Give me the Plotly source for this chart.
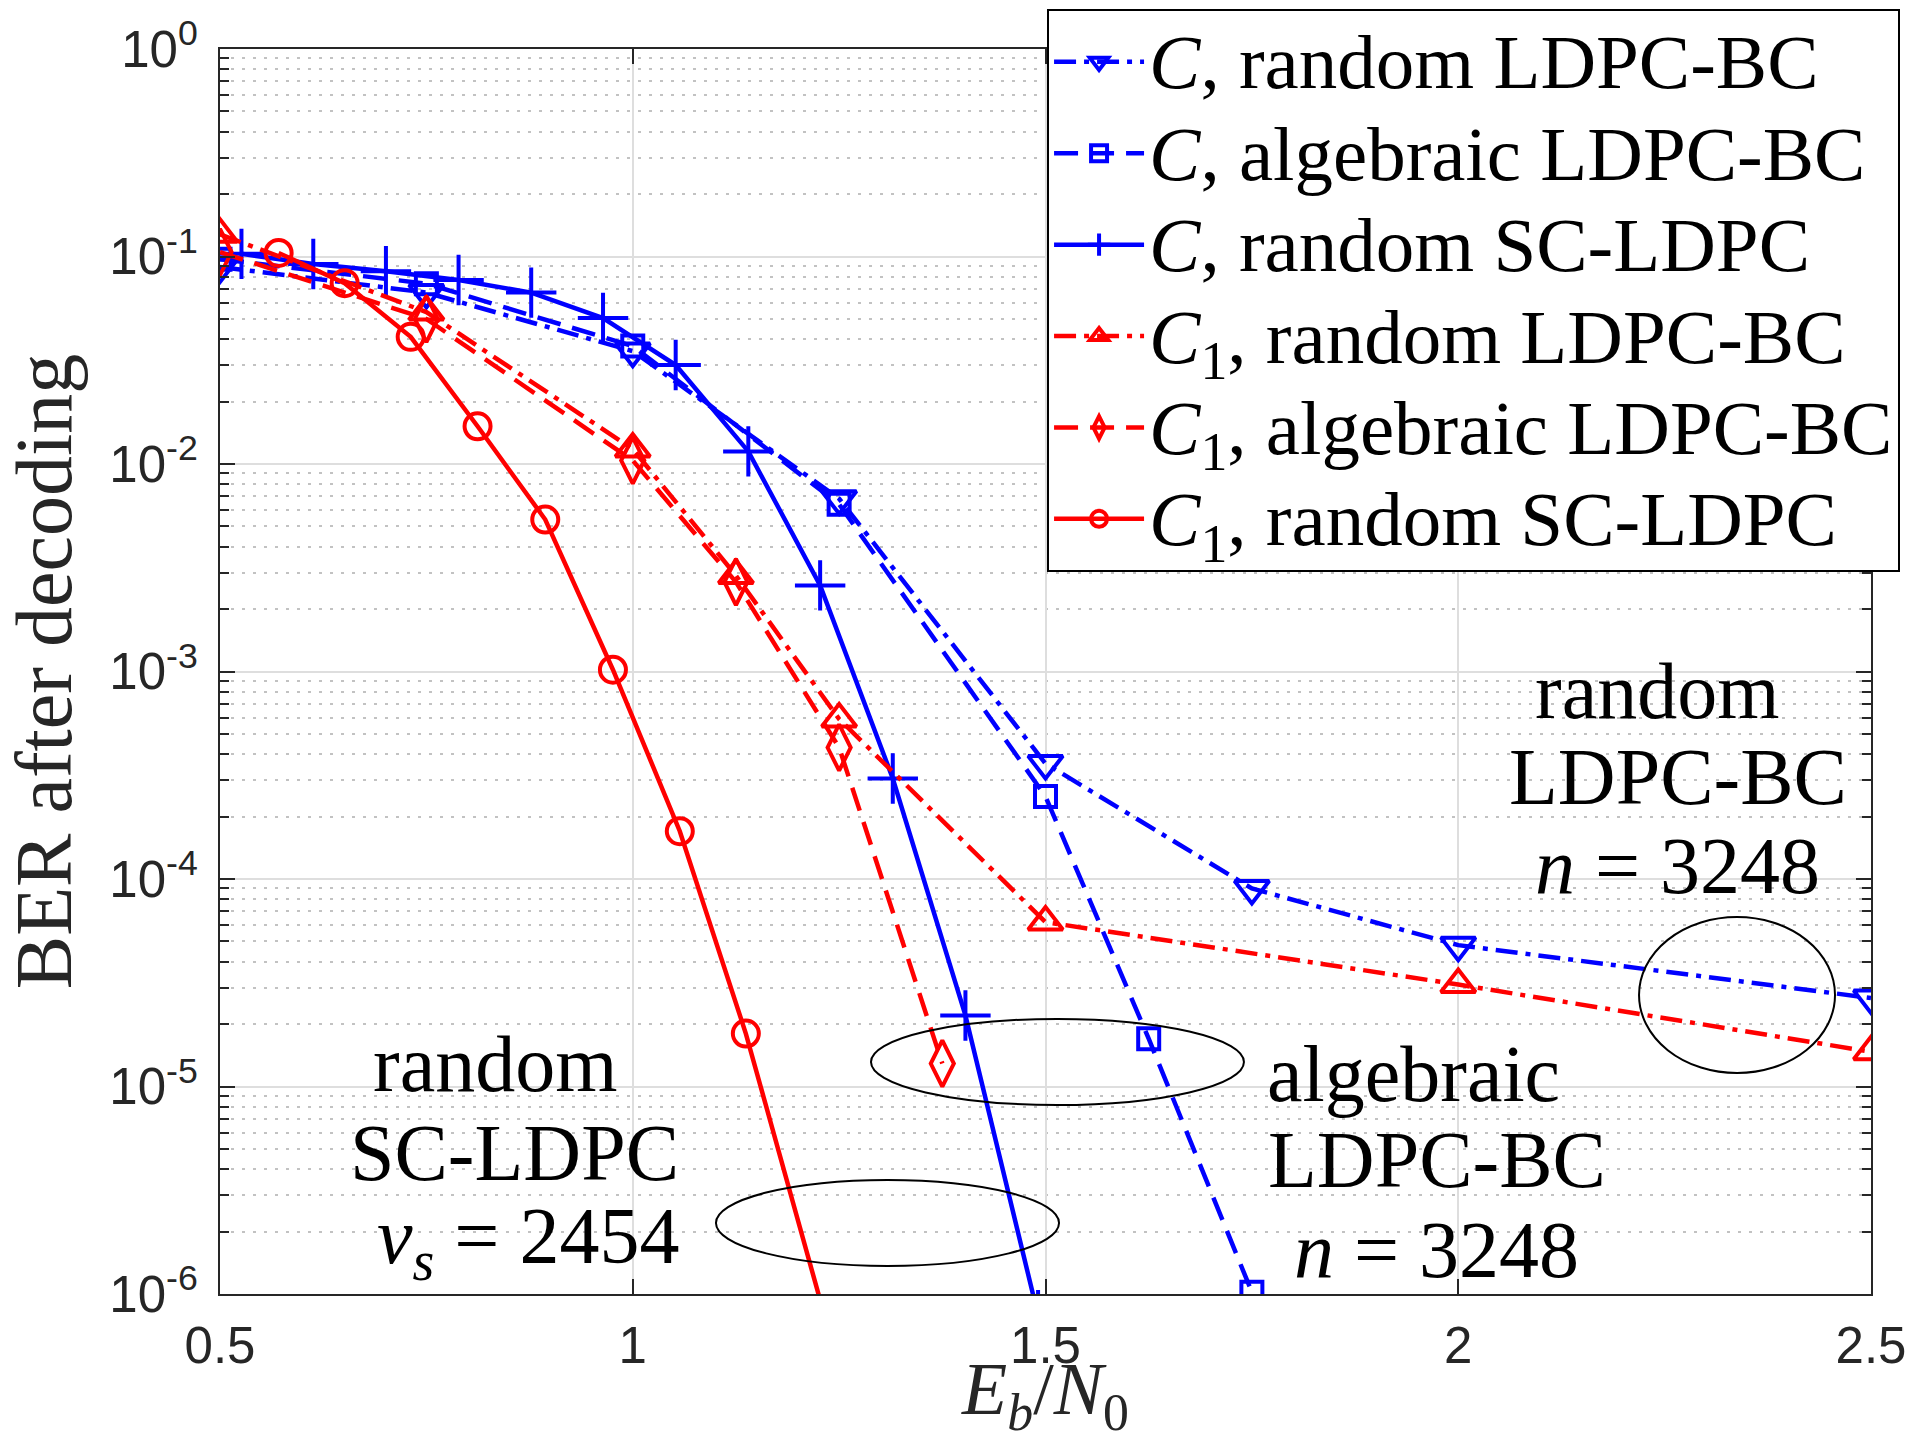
import plotly.graph_objects as go

# ---- BER curves (Eb/N0 in dB, BER after decoding) ----
x_c_rand_bc = [0.5, 0.75, 1.0, 1.25, 1.5, 1.75, 2.0, 2.5]
y_c_rand_bc = [0.089, 0.067, 0.035, 0.0068, 3.6e-4, 9.0e-5, 4.8e-5, 2.67e-5]

x_c_alg_bc = [0.5, 0.75, 1.0, 1.25, 1.5, 1.625, 1.75]
y_c_alg_bc = [0.097, 0.074, 0.037, 0.0064, 2.5e-4, 1.7e-5, 1.02e-6]

x_c_rand_sc = [0.526, 0.613, 0.701, 0.789, 0.877, 0.964, 1.052, 1.140, 1.227,
               1.315, 1.403, 1.491]
y_c_rand_sc = [0.103, 0.092, 0.085, 0.077, 0.067, 0.0505, 0.030, 0.0115, 0.0026,
               3.05e-4, 2.2e-5, 7.9e-7]

x_c1_rand_bc = [0.5, 0.75, 1.0, 1.125, 1.25, 1.5, 2.0, 2.5]
y_c1_rand_bc = [0.128, 0.054, 0.0118, 0.0029, 5.9e-4, 6.2e-5, 3.1e-5, 1.47e-5]

x_c1_alg_bc = [0.5, 0.75, 1.0, 1.125, 1.25, 1.375]
y_c1_alg_bc = [0.105, 0.050, 0.0104, 0.0027, 4.3e-4, 1.29e-5]

x_c1_rand_sc = [0.571, 0.651, 0.731, 0.812, 0.894, 0.976, 1.057, 1.137, 1.30]
y_c1_rand_sc = [0.104, 0.0744, 0.041, 0.0152, 0.0054, 0.00102, 1.7e-4, 1.8e-5, 8.5e-8]

x_ticks = [0.5, 1, 1.5, 2, 2.5]
x_tick_text = ["0.5", "1", "1.5", "2", "2.5"]
y_ticks = [1e-6, 1e-5, 1e-4, 1e-3, 1e-2, 1e-1, 1]
y_tick_text = ["10<sup>-6</sup>", "10<sup>-5</sup>", "10<sup>-4</sup>", "10<sup>-3</sup>",
               "10<sup>-2</sup>", "10<sup>-1</sup>", "10<sup>0</sup>"]
y_minor = [k * 10.0 ** e for e in range(-6, 0) for k in range(2, 10)]

BLUE = "rgb(0,0,255)"
RED = "rgb(255,0,0)"
AX = "#262626"
SERIF = "Liberation Serif"
SANS = "Liberation Sans"

DASHDOT = "22px,8px,5px,8px"
DASHED = "24px,12px"
LW = 4.5
MLW = 4

# legend rows keep a compact spacing while the label glyphs are drawn larger
LEG_ROW_FONT = 68
LEG_TEXT_PX = 77


def leg(label):
    return '<span style="font-size:%dpx">%s</span>' % (LEG_TEXT_PX, label)


series = [
    (x_c_rand_bc, y_c_rand_bc, BLUE, DASHDOT, "triangle-down-open", 30,
     "<i>C</i>, random LDPC-BC"),
    (x_c_alg_bc, y_c_alg_bc, BLUE, DASHED, "square-open", 21,
     "<i>C</i>, algebraic LDPC-BC"),
    (x_c_rand_sc, y_c_rand_sc, BLUE, "solid", "cross-thin", 36,
     "<i>C</i>, random SC-LDPC"),
    (x_c1_rand_bc, y_c1_rand_bc, RED, DASHDOT, "triangle-up-open", 30,
     "<i>C</i><sub>1</sub>, random LDPC-BC"),
    (x_c1_alg_bc, y_c1_alg_bc, RED, DASHED, "diamond-tall-open", 33,
     "<i>C</i><sub>1</sub>, algebraic LDPC-BC"),
    (x_c1_rand_sc, y_c1_rand_sc, RED, "solid", "circle-open", 26,
     "<i>C</i><sub>1</sub>, random SC-LDPC"),
]

fig = go.Figure()
for xs, ys, col, dash, sym, msize, name in series:
    fig.add_trace(go.Scatter(
        x=xs, y=ys, name=leg(name), mode="lines+markers",
        line=dict(color=col, width=LW, dash=dash),
        marker=dict(symbol=sym, size=msize, color=col,
                    line=dict(color=col, width=MLW)),
    ))

axis_common = dict(
    showline=True, linecolor=AX, linewidth=2, mirror="ticks",
    ticks="inside", ticklen=15, tickwidth=2, tickcolor=AX,
    showgrid=True, gridcolor="#dedede", gridwidth=2,
    zeroline=False,
    tickfont=dict(family=SANS, size=51, color=AX),
)

fig.update_xaxes(
    **axis_common,
    range=[0.5, 2.5], tickvals=x_ticks, ticktext=x_tick_text,
    ticklabelstandoff=6,
    title=dict(text="<i>E</i><sub><i>b</i></sub>/<i>N</i><sub>0</sub>",
               font=dict(family=SERIF, size=74, color=AX), standoff=23),
)
fig.update_yaxes(
    **axis_common,
    type="log", range=[-6, 0], tickvals=y_ticks, ticktext=y_tick_text,
    ticklabelstandoff=10,
    minor=dict(tickvals=y_minor, ticks="inside", ticklen=9, tickwidth=2,
               tickcolor=AX, showgrid=True, gridcolor="#c2c2c2",
               griddash="3px,8px", gridwidth=2),
    title=dict(text="BER after decoding",
               font=dict(family=SERIF, size=80, color=AX), standoff=12),
)

# Annotation texts
notes = [
    ("random", 0.1666, 0.1847),
    ("SC-LDPC", 0.1781, 0.1133),
    ("<i>ν</i><sub><i>s</i></sub> = 2454", 0.1866, 0.0418),
    ("algebraic", 0.7226, 0.1767),
    ("LDPC-BC", 0.7371, 0.1076),
    ("<i>n</i> = 3248", 0.7371, 0.0353),
    ("random", 0.8704, 0.4843),
    ("LDPC-BC", 0.8831, 0.4153),
    ("<i>n</i> = 3248", 0.8831, 0.3438),
]
for txt, ax_, ay_ in notes:
    fig.add_annotation(text=txt, x=ax_, y=ay_, xref="paper", yref="paper",
                       xanchor="center", yanchor="middle", showarrow=False,
                       font=dict(family=SERIF, size=80, color="black"))

# Ellipses grouping the curves
ellipses = [
    (0.3943, 0.1518, 0.6202, 0.2209),
    (0.3004, 0.0225, 0.5082, 0.0916),
    (0.8595, 0.1775, 0.9782, 0.3028),
]
for x0, y0, x1, y1 in ellipses:
    fig.add_shape(type="circle", xref="paper", yref="paper",
                  x0=x0, y0=y0, x1=x1, y1=y1,
                  line=dict(color="black", width=2), layer="above")

fig.update_layout(
    width=1918, height=1441,
    margin=dict(l=220, r=47, t=49, b=147, autoexpand=False),
    paper_bgcolor="white", plot_bgcolor="white",
    showlegend=True,
    legend=dict(
        x=1.0176, y=1.032, xanchor="right", yanchor="top",
        bgcolor="white", bordercolor="black", borderwidth=2,
        font=dict(family=SERIF, size=LEG_ROW_FONT, color="black"),
        itemwidth=90, tracegroupgap=0,
    ),
)

fig.write_html("out.html")
